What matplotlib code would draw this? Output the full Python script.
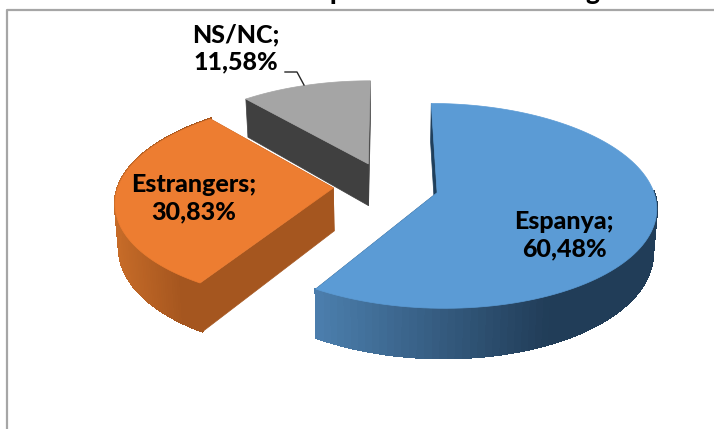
import numpy as np
import matplotlib.pyplot as plt
from matplotlib.colors import to_rgb
from matplotlib.patches import Polygon

names = ['Espanya', 'Estrangers', 'NS/NC']
values = [60.48, 30.83, 11.58]
top_colors = ['#5B9BD5', '#ED7D31', '#A5A5A5']
edge_colors = ['#1F3F5C', '#A5561F', '#404040']
side_left = ['#4C7FAE', '#C66B28', '#8A8A8A']
side_right = ['#213D58', '#A5561F', '#6E6E6E']
title_glyphs = ['p', 'g']

# pixel scales of the projected pie
cx, cy = 386, 186
rx, ry = 215, 99
persp = 0.128
depth = 43
explode = 0.245
shrink = 0.985


def project(u, v, low=False):
    s = 1 / (1 - persp * v)
    x = cx + rx * u * s
    y = cy + ry * v * s
    if low:
        x = cx + (x - cx) * shrink
        y = y + depth * s
    return x, y


def slice_points(a0, a1, off, n=120):
    # a is clockwise from 12 o'clock, radians
    a = np.linspace(a0, a1, n)
    return off[0] + np.sin(a), off[1] - np.cos(a)


fig = plt.figure(figsize=(7.14, 4.29), dpi=100)
ax = fig.add_axes([0, 0, 1, 1])
ax.set_xlim(0, 714)
ax.set_ylim(429, 0)
ax.axis('off')

# frame, runs off the right and bottom of the picture
ax.plot([6.5, 6.5, 714], [429, 9.5, 9.5], color='#A6A6A6', lw=1.6, zorder=1)

# title is cut by the top of the picture
for g, gx in zip(title_glyphs, [337, 592]):
    ax.text(gx, 0, g, fontsize=19, family='Lato', weight='black', ha='center',
            va='baseline', clip_on=False)

fractions = np.array(values) / sum(values)
ends = np.cumsum(fractions) * 2 * np.pi
starts = ends - fractions * 2 * np.pi

# back to front: grey, orange, blue
for i in [2, 1, 0]:
    a0, a1 = starts[i], ends[i]
    mid = (a0 + a1) / 2
    off = (explode * np.sin(mid), -explode * np.cos(mid))
    u, v = slice_points(a0, a1, off)
    xt, yt = project(u, v)
    xb, yb = project(u, v, low=True)
    ax_, ay_ = project(*off)
    bx_, by_ = project(*off, low=True)

    # radial walls that face the viewer
    for (ex, ey, elx, ely) in [(xt[0], yt[0], xb[0], yb[0]),
                               (xt[-1], yt[-1], xb[-1], yb[-1])]:
        wall = [(ax_, ay_), (ex, ey), (elx, ely), (bx_, by_)]
        ax.add_patch(Polygon(wall, closed=True, fc=edge_colors[i],
                             ec=edge_colors[i], lw=0.5, zorder=2 + (2 - i)))

    # curved wall, shaded strip by strip
    c0 = np.array(to_rgb(side_left[i]))
    c1 = np.array(to_rgb(side_right[i]))
    xspan = xt.min(), xt.max()
    for k in range(len(u) - 1):
        if v[k] + v[k + 1] < 2 * off[1] - 0.05 and i != 1:
            continue
        t = (xt[k] - xspan[0]) / (xspan[1] - xspan[0])
        col = c0 + (c1 - c0) * min(t * 1.45, 1)
        q = [(xt[k], yt[k]), (xt[k + 1], yt[k + 1]),
             (xb[k + 1], yb[k + 1]), (xb[k], yb[k])]
        ax.add_patch(Polygon(q, closed=True, fc=col, ec=col, lw=1.2,
                             antialiased=False, zorder=2 + (2 - i)))

    top = [(ax_, ay_)] + list(zip(xt, yt))
    ax.add_patch(Polygon(top, closed=True, fc=top_colors[i], ec=top_colors[i],
                         lw=0.5, zorder=2.5 + (2 - i)))

# leader line of the small slice
ax.plot([285, 297, 304], [72, 72, 85], color='#262626', lw=1, zorder=6)

label_pos = [(564, 235), (194, 198), (236, 48)]
for name, val, (lx, ly) in zip(names, values, label_pos):
    txt = '%s;\n%s%%' % (name, ('%.2f' % val).replace('.', ','))
    ax.text(lx, ly, txt, fontsize=18, family='Lato', weight='black', color='black',
            ha='center', va='center', linespacing=1.2, zorder=7)

fig.savefig('out.png', dpi=100)
